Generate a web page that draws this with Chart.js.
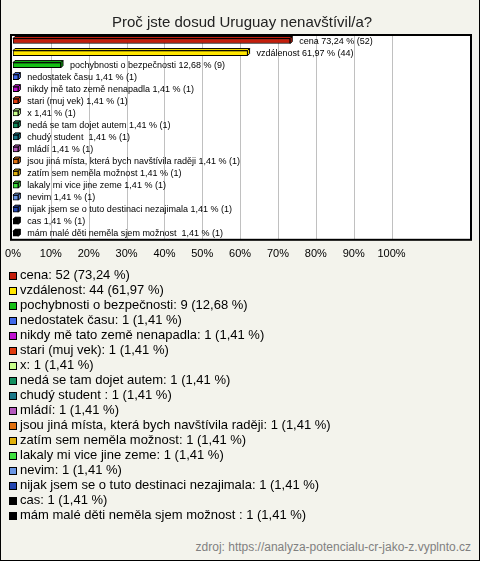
<!DOCTYPE html>
<html>
<head>
<meta charset="utf-8">
<script src="https://cdn.jsdelivr.net/npm/chart.js@4"></script>
<style>
  body { margin: 0; }
  #wrap {
    position: relative; width: 478px; height: 560px;
    background: #f3f3ec; border: 1px solid #000; border-top: none;
    font-family: Arial, "Liberation Sans", sans-serif;
  }
  #chart { position: absolute; left: -1px; top: 0; }
  #legend { position: absolute; left: 8px; top: 267px; font-size: 13px; color: #000; }
  #legend div { height: 15px; line-height: 15px; white-space: nowrap; }
  #legend span.sq {
    display: inline-block; width: 6px; height: 6px; border: 1px solid #000;
    margin-right: 3px; vertical-align: -1px;
  }
  #src { position: absolute; right: 8px; top: 540px; font-size: 12px; color: #808080; }
</style>
</head>
<body>
<div id="wrap">
  <canvas id="chart" width="480" height="271"></canvas>
  <div id="legend"></div>
  <div id="src">zdroj: https://analyza-potencialu-cr-jako-z.vyplnto.cz</div>
</div>
<script>
// odpovědi, počty a procenta
const labels = ['cena', 'vzdálenost', 'pochybnosti o bezpečnosti', 'nedostatek času',
  'nikdy mě tato země nenapadla', 'stari (muj vek)', 'x', 'nedá se tam dojet autem',
  'chudý student ', 'mládí', 'jsou jiná místa, která bych navštívila raději',
  'zatím sem neměla možnost', 'lakaly mi vice jine zeme', 'nevim',
  'nijak jsem se o tuto destinaci nezajimala', 'cas', 'mám malé děti neměla sjem možnost '];
const counts = [52, 44, 9, 1, 1, 1, 1, 1, 1, 1, 1, 1, 1, 1, 1, 1, 1];
const percents = [73.24, 61.97, 12.68, 1.41, 1.41, 1.41, 1.41, 1.41, 1.41, 1.41, 1.41, 1.41, 1.41, 1.41, 1.41, 1.41, 1.41];
const tickValues = [0, 10, 20, 30, 40, 50, 60, 70, 80, 90, 100];
const colors = ['#c41e0c', '#ffe600', '#16c016', '#4068e8', '#c010d0', '#e03c0e', '#c8ff8a',
  '#149060', '#1a7888', '#b458bc', '#e0700e', '#e0b00a', '#40e040', '#6a96e4', '#2446b0',
  '#000000', '#000000'];

const fmt = v => v.toFixed(2).replace('.', ',');

// bílé pozadí plochy, mřížka a rámeček
const plotBox = {
  id: 'plotBox',
  beforeDatasetsDraw(chart) {
    const a = chart.chartArea, ctx = chart.ctx, x = chart.scales.x;
    ctx.save();
    ctx.fillStyle = '#fff';
    ctx.fillRect(a.left - 2, a.top, a.right - a.left + 2, a.bottom - a.top);
    ctx.strokeStyle = '#c0c0c0';
    ctx.lineWidth = 1;
    tickValues.forEach(v => {
      if (v === 0) return;
      const px = Math.round(x.getPixelForValue(v)) + 0.5;
      ctx.beginPath();
      ctx.moveTo(px, a.top); ctx.lineTo(px, a.bottom);
      ctx.stroke();
    });
    ctx.restore();
  },
  afterDraw(chart) {
    const a = chart.chartArea, ctx = chart.ctx;
    ctx.save();
    ctx.strokeStyle = '#000';
    ctx.lineWidth = 2;
    ctx.strokeRect(a.left - 2, a.top, a.right - a.left + 2, a.bottom - a.top);
    ctx.restore();
  }
};

// 3D hrana sloupců a popisky
const bar3d = {
  id: 'bar3d',
  afterDatasetsDraw(chart) {
    const ctx = chart.ctx, d = 2;
    const meta = chart.getDatasetMeta(0);
    ctx.save();
    meta.data.forEach((bar, i) => {
      const top = bar.y - bar.height / 2, bottom = bar.y + bar.height / 2;
      ctx.lineWidth = 1;
      ctx.strokeStyle = '#000';
      ctx.fillStyle = colors[i];
      ctx.beginPath();
      ctx.moveTo(bar.base, top); ctx.lineTo(bar.base + d, top - d);
      ctx.lineTo(bar.x + d, top - d); ctx.lineTo(bar.x, top); ctx.closePath();
      ctx.fill(); ctx.stroke();
      ctx.beginPath();
      ctx.moveTo(bar.x, top); ctx.lineTo(bar.x + d, top - d);
      ctx.lineTo(bar.x + d, bottom - d); ctx.lineTo(bar.x, bottom); ctx.closePath();
      ctx.fill(); ctx.stroke();
      ctx.fillStyle = '#000';
      ctx.font = '9px Arial';
      ctx.textBaseline = 'middle';
      ctx.fillText(labels[i] + ' ' + fmt(percents[i]) + ' % (' + counts[i] + ')', bar.x + d + 7, bar.y);
    });
    ctx.restore();
  }
};

new Chart(document.getElementById('chart').getContext('2d'), {
  type: 'bar',
  data: {
    labels: labels,
    datasets: [{
      data: percents,
      backgroundColor: colors,
      borderColor: '#000',
      borderWidth: 1,
      borderSkipped: false,
      barThickness: 5
    }]
  },
  options: {
    indexAxis: 'y',
    responsive: false,
    animation: false,
    layout: { padding: { left: 13, right: 9, bottom: 2 } },
    plugins: {
      legend: { display: false },
      tooltip: { enabled: false },
      title: {
        display: true,
        text: 'Proč jste dosud Uruguay nenavštívil/a?',
        color: '#222',
        font: { family: 'Arial', size: 15, weight: 'normal' },
        padding: { top: 14, bottom: 3 }
      }
    },
    scales: {
      x: {
        min: 0, max: 121,
        afterBuildTicks: axis => { axis.ticks = tickValues.map(v => ({ value: v })); },
        afterFit: axis => { axis.paddingLeft = 0; axis.paddingRight = 0; },
        ticks: {
          color: '#000', padding: 8, maxRotation: 0, autoSkip: false,
          font: { family: 'Arial', size: 11 },
          callback: v => v + '%'
        },
        grid: { display: false, drawTicks: false },
        border: { display: false }
      },
      y: { display: false }
    }
  },
  plugins: [plotBox, bar3d]
});

// legenda pod grafem
const legend = document.getElementById('legend');
labels.forEach((l, i) => {
  const row = document.createElement('div');
  row.innerHTML = '<span class="sq" style="background:' + colors[i] + '"></span>' +
    l + ': ' + counts[i] + ' (' + fmt(percents[i]) + ' %)';
  legend.appendChild(row);
});
</script>
</body>
</html>
